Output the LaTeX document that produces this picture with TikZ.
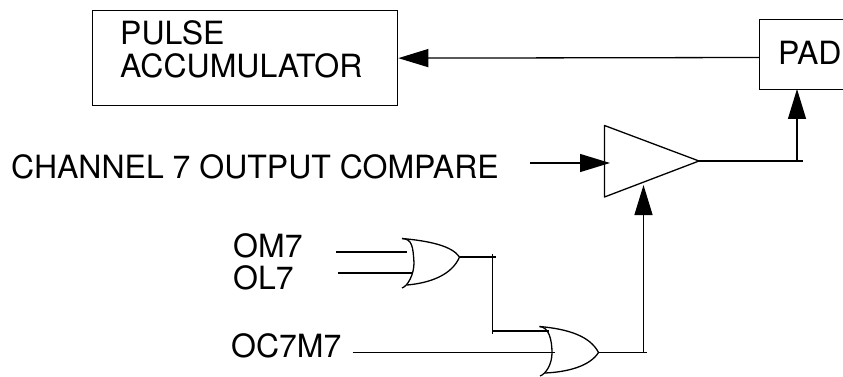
\documentclass[tikz,border=0pt]{standalone}
\usepackage{fontspec}
\setmainfont{TeX Gyre Heros}
\usetikzlibrary{arrows.meta}
\tikzset{
  x=1pt,y=-1pt,
  wire/.style={line width=1.3pt,line cap=butt},
  sig/.style={wire,-{Triangle[length=30pt,width=18pt]}},
  boxn/.style={draw,line width=1.3pt,rectangle,inner sep=0pt,anchor=north west},
  lbl/.style={inner sep=0pt,anchor=base west,font=\fontsize{32}{32}\selectfont},
  gate/.style={line width=1.3pt,line join=round}
}
\begin{document}
\begin{tikzpicture}
\useasboundingbox (0,0) rectangle (843,377);
\clip (0,0) rectangle (843,377);
% blocks
\node[boxn,minimum width=305pt,minimum height=95pt] (pulse) at (92,10) {};
\node[boxn,minimum width=100pt,minimum height=70pt] (pad) at (759,19) {};
\node[lbl] (t1) at (120,45) {PULSE};
\node[lbl] (t2) at (120,78) {ACCUMULATOR};
\node[lbl] (t3) at (778,65) {PAD};
\node[lbl] (t4) at (11,178) {CHANNEL 7 OUTPUT COMPARE};
\node[lbl] (t5) at (233,257.5) {OM7};
\node[lbl] (t6) at (233,289) {OL7};
\node[lbl] (t7) at (231,357.5) {OC7M7};
% named points
\coordinate (padin) at (759,57.5);
\coordinate (padbot) at (797,89);
\coordinate (bufA) at (604.5,125.5);
\coordinate (bufB) at (604.5,197);
\coordinate (bufO) at (699,161);
\coordinate (bufIn) at (610,163);
\coordinate (chan) at (530,163);
\coordinate (bufEn) at (643.5,185);
\coordinate (outEnd) at (803,161);
\coordinate (outTurn) at (797,161);
\coordinate (o1T) at (402,238.5);
\coordinate (o1O) at (459.5,257);
\coordinate (o1B) at (402,288);
\coordinate (o2T) at (539.5,326.5);
\coordinate (o2O) at (598.5,352.5);
\coordinate (o2B) at (540,376);
\coordinate (om) at (336,252);
\coordinate (omE) at (407,252);
\coordinate (ol) at (338,273);
\coordinate (olE) at (413,273);
\coordinate (jTop) at (492.7,254);
\coordinate (jLow) at (492.7,331);
\coordinate (jBot) at (492.7,334);
\coordinate (jEnd) at (495.5,257);
\coordinate (o2In) at (549,331);
\coordinate (oc) at (352.7,352.5);
\coordinate (ocE) at (555,352.5);
\coordinate (o2End) at (647,352.5);
\coordinate (o2Turn) at (643.5,352.5);
% buffer
\draw[gate] (bufA) -- (bufO) -- (bufB) -- cycle;
% OR gates
\draw[gate] (o1T) .. controls (412,239) and (413,246) .. (414,263)
  .. controls (414,274) and (408,286) .. (o1B);
\draw[gate] (o1T) .. controls (430,241) and (452,246) .. (o1O)
  .. controls (452,275) and (430,283) .. (407,285);
\draw[gate] (o2T) .. controls (549,327) and (552,340) .. (552,353)
  .. controls (552,364) and (546,374) .. (o2B);
\draw[gate] (o2T) .. controls (568,329) and (590,336) .. (o2O)
  .. controls (590,366) and (568,372) .. (545,373);
% connectors
\draw[sig] (padin) -- (pulse.east);
\draw[sig] (outTurn) -- (padbot);
\draw[wire] (bufO) -- (outEnd);
\draw[sig] (chan) -- (bufIn);
\draw[sig] (o2Turn) -- (bufEn);
\draw[wire] (om) -- (omE);
\draw[wire] (ol) -- (olE);
\draw[wire] (o1O) -- (jEnd);
\draw[wire] (jTop) -- (jBot);
\draw[wire] (jLow) -- (o2In);
\draw[wire] (oc) -- (ocE);
\draw[wire] (o2O) -- (o2End);
\end{tikzpicture}
\end{document}
